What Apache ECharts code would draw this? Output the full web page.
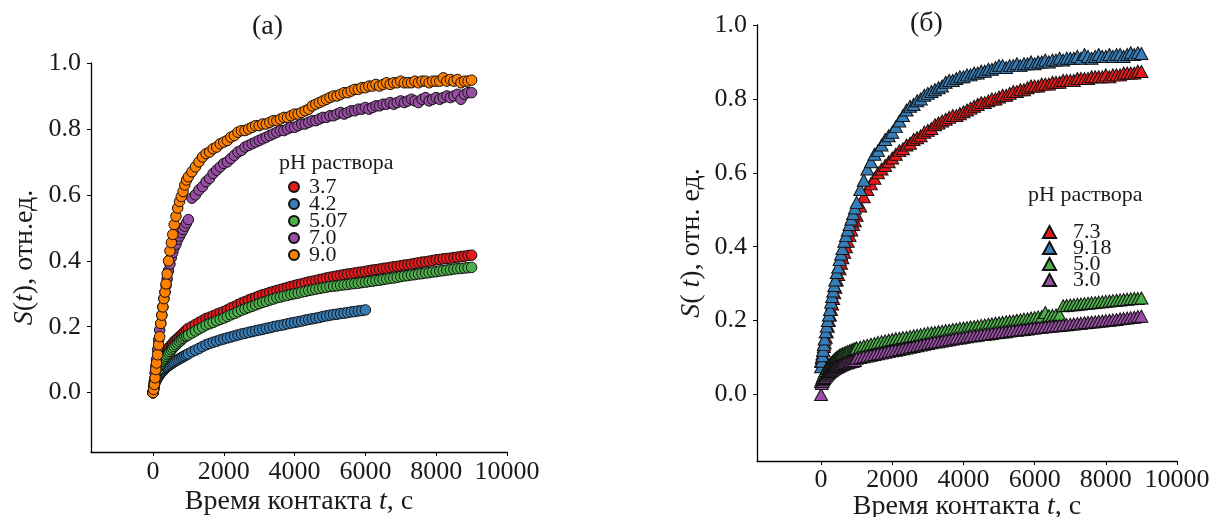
<!DOCTYPE html>
<html>
<head>
<meta charset="utf-8">
<script src="https://cdn.jsdelivr.net/npm/echarts@6/dist/echarts.min.js"></script>
<style>
html, body { margin: 0; padding: 0; background: #fff; }
#chart { width: 1215px; height: 517px; }
</style>
</head>
<body>
<div id="chart"></div>
<script>
// sampling times, s (shared by both panels)
var timeS = [0, 20, 40, 60, 80, 100, 130, 160, 190, 220, 250, 280, 310, 340, 370, 400, 440, 480, 520, 560, 600, 650, 700, 750, 800, 850, 900, 950, 1000,
	1100, 1200, 1300, 1400, 1500, 1600, 1700, 1800, 1900, 2000,
	2100, 2200, 2300, 2400, 2500, 2600, 2700, 2800, 2900, 3000,
	3100, 3200, 3300, 3400, 3500, 3600, 3700, 3800, 3900, 4000,
	4100, 4200, 4300, 4400, 4500, 4600, 4700, 4800, 4900, 5000,
	5100, 5200, 5300, 5400, 5500, 5600, 5700, 5800, 5900, 6000,
	6100, 6200, 6300, 6400, 6500, 6600, 6700, 6800, 6900, 7000,
	7100, 7200, 7300, 7400, 7500, 7600, 7700, 7800, 7900, 8000,
	8100, 8200, 8300, 8400, 8500, 8600, 8700, 8800, 8900, 9000];

var xTicks = [0, 2000, 4000, 6000, 8000, 10000];
var yTicks = [0, 0.2, 0.4, 0.6, 0.8, 1.0];

// panel (а): pH of the solution
var namesA = ["3.7", "4.2", "5.07", "7.0", "9.0"];
var colorsA = ["#e41a1c", "#377eb8", "#4daf4a", "#984ea3", "#ff7f00"];

var sA37 = [0, 0.02, 0.035, 0.045, 0.055, 0.065, 0.075, 0.085, 0.09, 0.1, 0.105, 0.11, 0.115, 0.12, 0.125, 0.13, 0.135, 0.14, 0.145, 0.15, 0.155, 0.16, 0.165, 0.17, 0.175, 0.18, 0.185, 0.19, 0.195,
	0.201, 0.207, 0.213, 0.219, 0.225, 0.229, 0.233, 0.238, 0.242, 0.246,
	0.251, 0.257, 0.261, 0.267, 0.272, 0.276, 0.281, 0.285, 0.289, 0.293,
	0.297, 0.300, 0.304, 0.307, 0.310, 0.313, 0.316, 0.319, 0.322, 0.325,
	0.328, 0.330, 0.333, 0.336, 0.338, 0.340, 0.343, 0.345, 0.348, 0.350,
	0.352, 0.354, 0.356, 0.358, 0.360, 0.361, 0.363, 0.365, 0.366, 0.368,
	0.370, 0.372, 0.373, 0.375, 0.377, 0.378, 0.380, 0.382, 0.383, 0.385,
	0.387, 0.388, 0.390, 0.392, 0.394, 0.396, 0.397, 0.399, 0.401, 0.403,
	0.404, 0.406, 0.407, 0.408, 0.410, 0.411, 0.413, 0.414, 0.416, 0.417];

var sA42 = [0, 0.01, 0.02, 0.03, 0.035, 0.04, 0.045, 0.05, 0.055, 0.06, 0.063, 0.066, 0.07, 0.073, 0.076, 0.079, 0.082, 0.085, 0.088, 0.091, 0.094, 0.097, 0.1, 0.103, 0.106, 0.109, 0.112, 0.115, 0.118,
	0.124, 0.129, 0.134, 0.140, 0.145, 0.149, 0.153, 0.156, 0.160, 0.163,
	0.166, 0.169, 0.172, 0.175, 0.178, 0.180, 0.183, 0.185, 0.188, 0.190,
	0.192, 0.195, 0.197, 0.200, 0.202, 0.204, 0.206, 0.209, 0.211, 0.213,
	0.215, 0.217, 0.220, 0.222, 0.224, 0.226, 0.228, 0.231, 0.233, 0.235,
	0.237, 0.238, 0.240, 0.241, 0.243, 0.245, 0.246, 0.248, 0.249, 0.251];

var sA507 = [0, 0.015, 0.03, 0.04, 0.05, 0.055, 0.065, 0.07, 0.08, 0.085, 0.09, 0.095, 0.1, 0.105, 0.11, 0.115, 0.12, 0.125, 0.13, 0.135, 0.14, 0.145, 0.15, 0.155, 0.16, 0.165, 0.17, 0.172, 0.175,
	0.181, 0.187, 0.193, 0.199, 0.205, 0.209, 0.213, 0.218, 0.222, 0.226,
	0.231, 0.236, 0.240, 0.245, 0.250, 0.254, 0.258, 0.262, 0.266, 0.270,
	0.274, 0.277, 0.281, 0.284, 0.288, 0.290, 0.293, 0.295, 0.298, 0.300,
	0.302, 0.305, 0.307, 0.310, 0.312, 0.314, 0.316, 0.318, 0.320, 0.322,
	0.323, 0.324, 0.326, 0.327, 0.328, 0.330, 0.331, 0.332, 0.334, 0.335,
	0.337, 0.338, 0.340, 0.341, 0.343, 0.345, 0.347, 0.348, 0.350, 0.352,
	0.354, 0.355, 0.357, 0.358, 0.360, 0.361, 0.363, 0.364, 0.366, 0.367,
	0.369, 0.370, 0.372, 0.373, 0.375, 0.376, 0.377, 0.378, 0.379, 0.380];

var sA70 = [0, 0.01, 0.03, 0.06, 0.08, 0.10, 0.13, 0.16, 0.19, 0.21, 0.235, 0.26, 0.285, 0.305, 0.325, 0.345, 0.37, 0.39, 0.41, 0.425, 0.44, 0.45, 0.465, 0.475, 0.485, 0.495, 0.505, 0.515, 0.525,
	0.59, 0.60, 0.615, 0.625, 0.64, 0.65, 0.665, 0.675, 0.685, 0.695,
	0.70, 0.71, 0.72, 0.73, 0.735, 0.745, 0.75, 0.755, 0.76, 0.765,
	0.77, 0.775, 0.78, 0.785, 0.79, 0.795, 0.795, 0.80, 0.805, 0.805,
	0.81, 0.815, 0.815, 0.82, 0.825, 0.825, 0.83, 0.835, 0.835, 0.84,
	0.84, 0.845, 0.85, 0.845, 0.85, 0.855, 0.855, 0.86, 0.86, 0.865,
	0.86, 0.865, 0.87, 0.87, 0.875, 0.875, 0.88, 0.875, 0.88, 0.885,
	0.88, 0.885, 0.89, 0.885, 0.88, 0.89, 0.895, 0.885, 0.89, 0.895,
	0.89, 0.895, 0.90, 0.895, 0.90, 0.905, 0.89, 0.905, 0.91, 0.91];

var sA90 = [0, 0.01, 0.025, 0.045, 0.07, 0.09, 0.115, 0.145, 0.17, 0.21, 0.235, 0.26, 0.285, 0.305, 0.33, 0.36, 0.40, 0.43, 0.455, 0.48, 0.51, 0.535, 0.56, 0.58, 0.595, 0.61, 0.63, 0.645, 0.655,
	0.67, 0.685, 0.70, 0.715, 0.725, 0.73, 0.74, 0.745, 0.755, 0.76,
	0.765, 0.775, 0.78, 0.79, 0.795, 0.795, 0.80, 0.805, 0.81, 0.81,
	0.815, 0.815, 0.82, 0.825, 0.825, 0.83, 0.835, 0.835, 0.84, 0.845,
	0.845, 0.85, 0.855, 0.86, 0.87, 0.875, 0.88, 0.885, 0.89, 0.895,
	0.90, 0.90, 0.905, 0.91, 0.91, 0.915, 0.92, 0.92, 0.925, 0.925,
	0.93, 0.93, 0.935, 0.93, 0.935, 0.94, 0.935, 0.94, 0.94, 0.945,
	0.94, 0.94, 0.94, 0.945, 0.94, 0.945, 0.945, 0.94, 0.945, 0.945,
	0.945, 0.955, 0.945, 0.95, 0.945, 0.95, 0.94, 0.945, 0.945, 0.948];

// panel (б)
var namesB = ["7.3", "9.18", "5.0", "3.0"];
var colorsB = ["#e41a1c", "#377eb8", "#4daf4a", "#984ea3"];

var sB73 = [0.09, 0.10, 0.11, 0.12, 0.13, 0.14, 0.155, 0.17, 0.185, 0.20, 0.215, 0.23, 0.245, 0.26, 0.275, 0.29, 0.31, 0.325, 0.34, 0.355, 0.37, 0.385, 0.40, 0.415, 0.43, 0.445, 0.46, 0.47, 0.485,
	0.51, 0.535, 0.555, 0.57, 0.585, 0.60, 0.61, 0.62, 0.63, 0.64,
	0.65, 0.66, 0.665, 0.675, 0.68, 0.69, 0.695, 0.70, 0.71, 0.715,
	0.72, 0.73, 0.735, 0.74, 0.745, 0.75, 0.755, 0.755, 0.76, 0.765,
	0.77, 0.775, 0.78, 0.785, 0.79, 0.79, 0.795, 0.80, 0.80, 0.805,
	0.81, 0.81, 0.815, 0.82, 0.82, 0.825, 0.825, 0.83, 0.835, 0.835,
	0.835, 0.84, 0.84, 0.84, 0.845, 0.845, 0.845, 0.85, 0.85, 0.85,
	0.85, 0.855, 0.855, 0.855, 0.855, 0.86, 0.86, 0.86, 0.86, 0.865,
	0.86, 0.865, 0.865, 0.865, 0.87, 0.87, 0.87, 0.87, 0.875, 0.874];

var sB918 = [0.075, 0.09, 0.105, 0.12, 0.135, 0.15, 0.17, 0.185, 0.20, 0.215, 0.23, 0.25, 0.265, 0.28, 0.295, 0.31, 0.33, 0.345, 0.365, 0.38, 0.395, 0.415, 0.43, 0.445, 0.46, 0.475, 0.49, 0.505, 0.52,
	0.555, 0.58, 0.61, 0.63, 0.65, 0.66, 0.675, 0.69, 0.70, 0.71,
	0.725, 0.74, 0.755, 0.77, 0.78, 0.785, 0.795, 0.80, 0.81, 0.815,
	0.82, 0.825, 0.83, 0.835, 0.845, 0.85, 0.85, 0.855, 0.86, 0.86,
	0.865, 0.865, 0.87, 0.87, 0.875, 0.875, 0.88, 0.88, 0.885, 0.89,
	0.89, 0.885, 0.89, 0.89, 0.895, 0.89, 0.895, 0.895, 0.90, 0.895,
	0.90, 0.90, 0.905, 0.90, 0.905, 0.905, 0.91, 0.905, 0.91, 0.91,
	0.91, 0.915, 0.91, 0.92, 0.915, 0.91, 0.915, 0.92, 0.915, 0.915,
	0.92, 0.915, 0.92, 0.92, 0.915, 0.92, 0.925, 0.92, 0.925, 0.923];

var sB50 = [0.035, 0.04, 0.045, 0.05, 0.055, 0.06, 0.065, 0.07, 0.074, 0.078, 0.082, 0.085, 0.088, 0.091, 0.094, 0.097, 0.1, 0.103, 0.106, 0.108, 0.11, 0.112, 0.114, 0.116, 0.118, 0.12, 0.122, 0.124, 0.126,
	0.128, 0.131, 0.133, 0.136, 0.138, 0.141, 0.143, 0.145, 0.147, 0.149,
	0.151, 0.152, 0.154, 0.155, 0.157, 0.159, 0.160, 0.162, 0.164, 0.166,
	0.167, 0.168, 0.170, 0.171, 0.173, 0.174, 0.176, 0.177, 0.179, 0.180,
	0.181, 0.183, 0.184, 0.185, 0.187, 0.188, 0.190, 0.191, 0.193, 0.194,
	0.195, 0.197, 0.198, 0.199, 0.201, 0.202, 0.204, 0.205, 0.207, 0.208,
	0.210, 0.211, 0.222, 0.213, 0.214, 0.215, 0.216, 0.240, 0.241, 0.242,
	0.243, 0.244, 0.245, 0.246, 0.247, 0.248, 0.249, 0.250, 0.251, 0.252,
	0.253, 0.254, 0.255, 0.256, 0.257, 0.258, 0.259, 0.260, 0.260, 0.261];

var sB30 = [0, 0.03, 0.035, 0.04, 0.043, 0.046, 0.05, 0.053, 0.056, 0.059, 0.062, 0.064, 0.066, 0.068, 0.07, 0.072, 0.074, 0.076, 0.078, 0.08, 0.081, 0.083, 0.085, 0.086, 0.088, 0.089, 0.09, 0.092, 0.098,
	0.100, 0.102, 0.104, 0.106, 0.108, 0.110, 0.112, 0.114, 0.116, 0.118,
	0.120, 0.122, 0.124, 0.126, 0.128, 0.130, 0.132, 0.134, 0.136, 0.138,
	0.140, 0.142, 0.143, 0.145, 0.147, 0.148, 0.150, 0.152, 0.153, 0.155,
	0.156, 0.158, 0.159, 0.160, 0.162, 0.163, 0.164, 0.165, 0.167, 0.168,
	0.169, 0.170, 0.172, 0.173, 0.174, 0.175, 0.176, 0.177, 0.179, 0.180,
	0.181, 0.182, 0.183, 0.184, 0.185, 0.186, 0.187, 0.188, 0.189, 0.190,
	0.191, 0.192, 0.193, 0.194, 0.195, 0.196, 0.197, 0.198, 0.199, 0.200,
	0.201, 0.202, 0.203, 0.205, 0.206, 0.207, 0.208, 0.209, 0.211, 0.212];

var valuesA = [sA37, sA42, sA507, sA70, sA90];
var valuesB = [sB73, sB918, sB50, sB30];

var FONT = "Liberation Serif",
	INK = "#1a1a1a";

function pairs(vals) {
	return vals.map(function (v, i) { return [timeS[i], v]; });
}

function makeX(grid, xmin, margin, gap) {
	return {
		type: "value", gridIndex: grid, min: xmin, max: 10000,
		axisLine: { onZero: false, lineStyle: { color: "#000", width: 1.3 } },
		axisTick: { show: true, length: 4, customValues: xTicks, lineStyle: { color: "#000" } },
		axisLabel: { customValues: xTicks, fontFamily: FONT, fontSize: 26, color: INK, margin: margin,
			formatter: function (v) { return String(v); } },
		splitLine: { show: false },
		name: "Время контакта {i|t}, с",
		nameLocation: "middle",
		nameGap: gap,
		nameMoveOverlap: false,
		nameTextStyle: { fontFamily: FONT, fontSize: 28, color: INK,
			rich: { i: { fontFamily: FONT, fontSize: 28, fontStyle: "italic", color: INK } } }
	};
}

function makeY(grid, name, gap) {
	return {
		type: "value", gridIndex: grid, min: -0.18, max: 1.0,
		axisLine: { show: true, onZero: false, lineStyle: { color: "#000", width: 1.3 } },
		axisTick: { show: true, length: 4, customValues: yTicks, lineStyle: { color: "#000" } },
		axisLabel: { customValues: yTicks, fontFamily: FONT, fontSize: 26, color: INK, margin: 10,
			formatter: function (v) { return v.toFixed(1); } },
		splitLine: { show: false },
		name: name,
		nameLocation: "middle",
		nameRotate: 90,
		nameGap: gap,
		nameMoveOverlap: false,
		nameTextStyle: { fontFamily: FONT, fontSize: 28, color: INK,
			rich: { i: { fontFamily: FONT, fontSize: 28, fontStyle: "italic", color: INK } } }
	};
}

var series = [];
namesA.forEach(function (n, k) {
	series.push({
		name: n, type: "scatter", xAxisIndex: 0, yAxisIndex: 0,
		symbol: "circle", symbolSize: 10.5,
		itemStyle: { color: colorsA[k], borderColor: "#111", borderWidth: 1, opacity: 1 },
		data: pairs(valuesA[k])
	});
});
namesB.forEach(function (n, k) {
	series.push({
		name: n, type: "scatter", xAxisIndex: 1, yAxisIndex: 1,
		symbol: "triangle", symbolSize: [13, 12],
		itemStyle: { color: colorsB[k], borderColor: "#111", borderWidth: 1, opacity: 1 },
		data: pairs(valuesB[k])
	});
});

var legendText = { fontFamily: FONT, fontSize: 22, color: INK };
var titleText = { fontFamily: FONT, fontSize: 28, fontWeight: "normal", color: INK };
var keyText = { fontFamily: FONT, fontSize: 22, fontWeight: "normal", color: INK };

var option = {
	animation: false,
	backgroundColor: "#fff",
	title: [
		{ text: "(а)", left: 252, top: 13, padding: 0, textStyle: titleText },
		{ text: "(б)", left: 910, top: 10, padding: 0, textStyle: titleText },
		{ text: "pH раствора", left: 279, top: 152, padding: 0, textStyle: keyText },
		{ text: "pH раствора", left: 1028, top: 184, padding: 0, textStyle: keyText }
	],
	legend: [
		{
			data: namesA, orient: "vertical", left: 288, top: 176, padding: 0,
			itemWidth: 10, itemHeight: 10, itemGap: -5, selectedMode: false,
			textStyle: Object.assign({ padding: [0, 0, 0, 5] }, legendText)
		},
		{
			data: namesB, orient: "vertical", left: 1042, top: 221, padding: 0,
			itemWidth: 13, itemHeight: 12, itemGap: -6, selectedMode: false,
			textStyle: Object.assign({ padding: [0, 0, 0, 12] }, legendText)
		}
	],
	grid: [
		{ left: 91, right: 708, top: 63, bottom: 65, outerBoundsMode: "none", containLabel: false },
		{ left: 757, right: 38, top: 25, bottom: 56, outerBoundsMode: "none", containLabel: false }
	],
	xAxis: [makeX(0, -1750, 7, 36), makeX(1, -1800, 6, 32)],
	yAxis: [makeY(0, "{i|S}({i|t}), отн.ед.", 52), makeY(1, "{i|S}( {i|t}), отн. ед.", 51)],
	series: series
};

var chart = echarts.init(document.getElementById("chart"), null, { renderer: "canvas" });
chart.setOption(option);
</script>
</body>
</html>
